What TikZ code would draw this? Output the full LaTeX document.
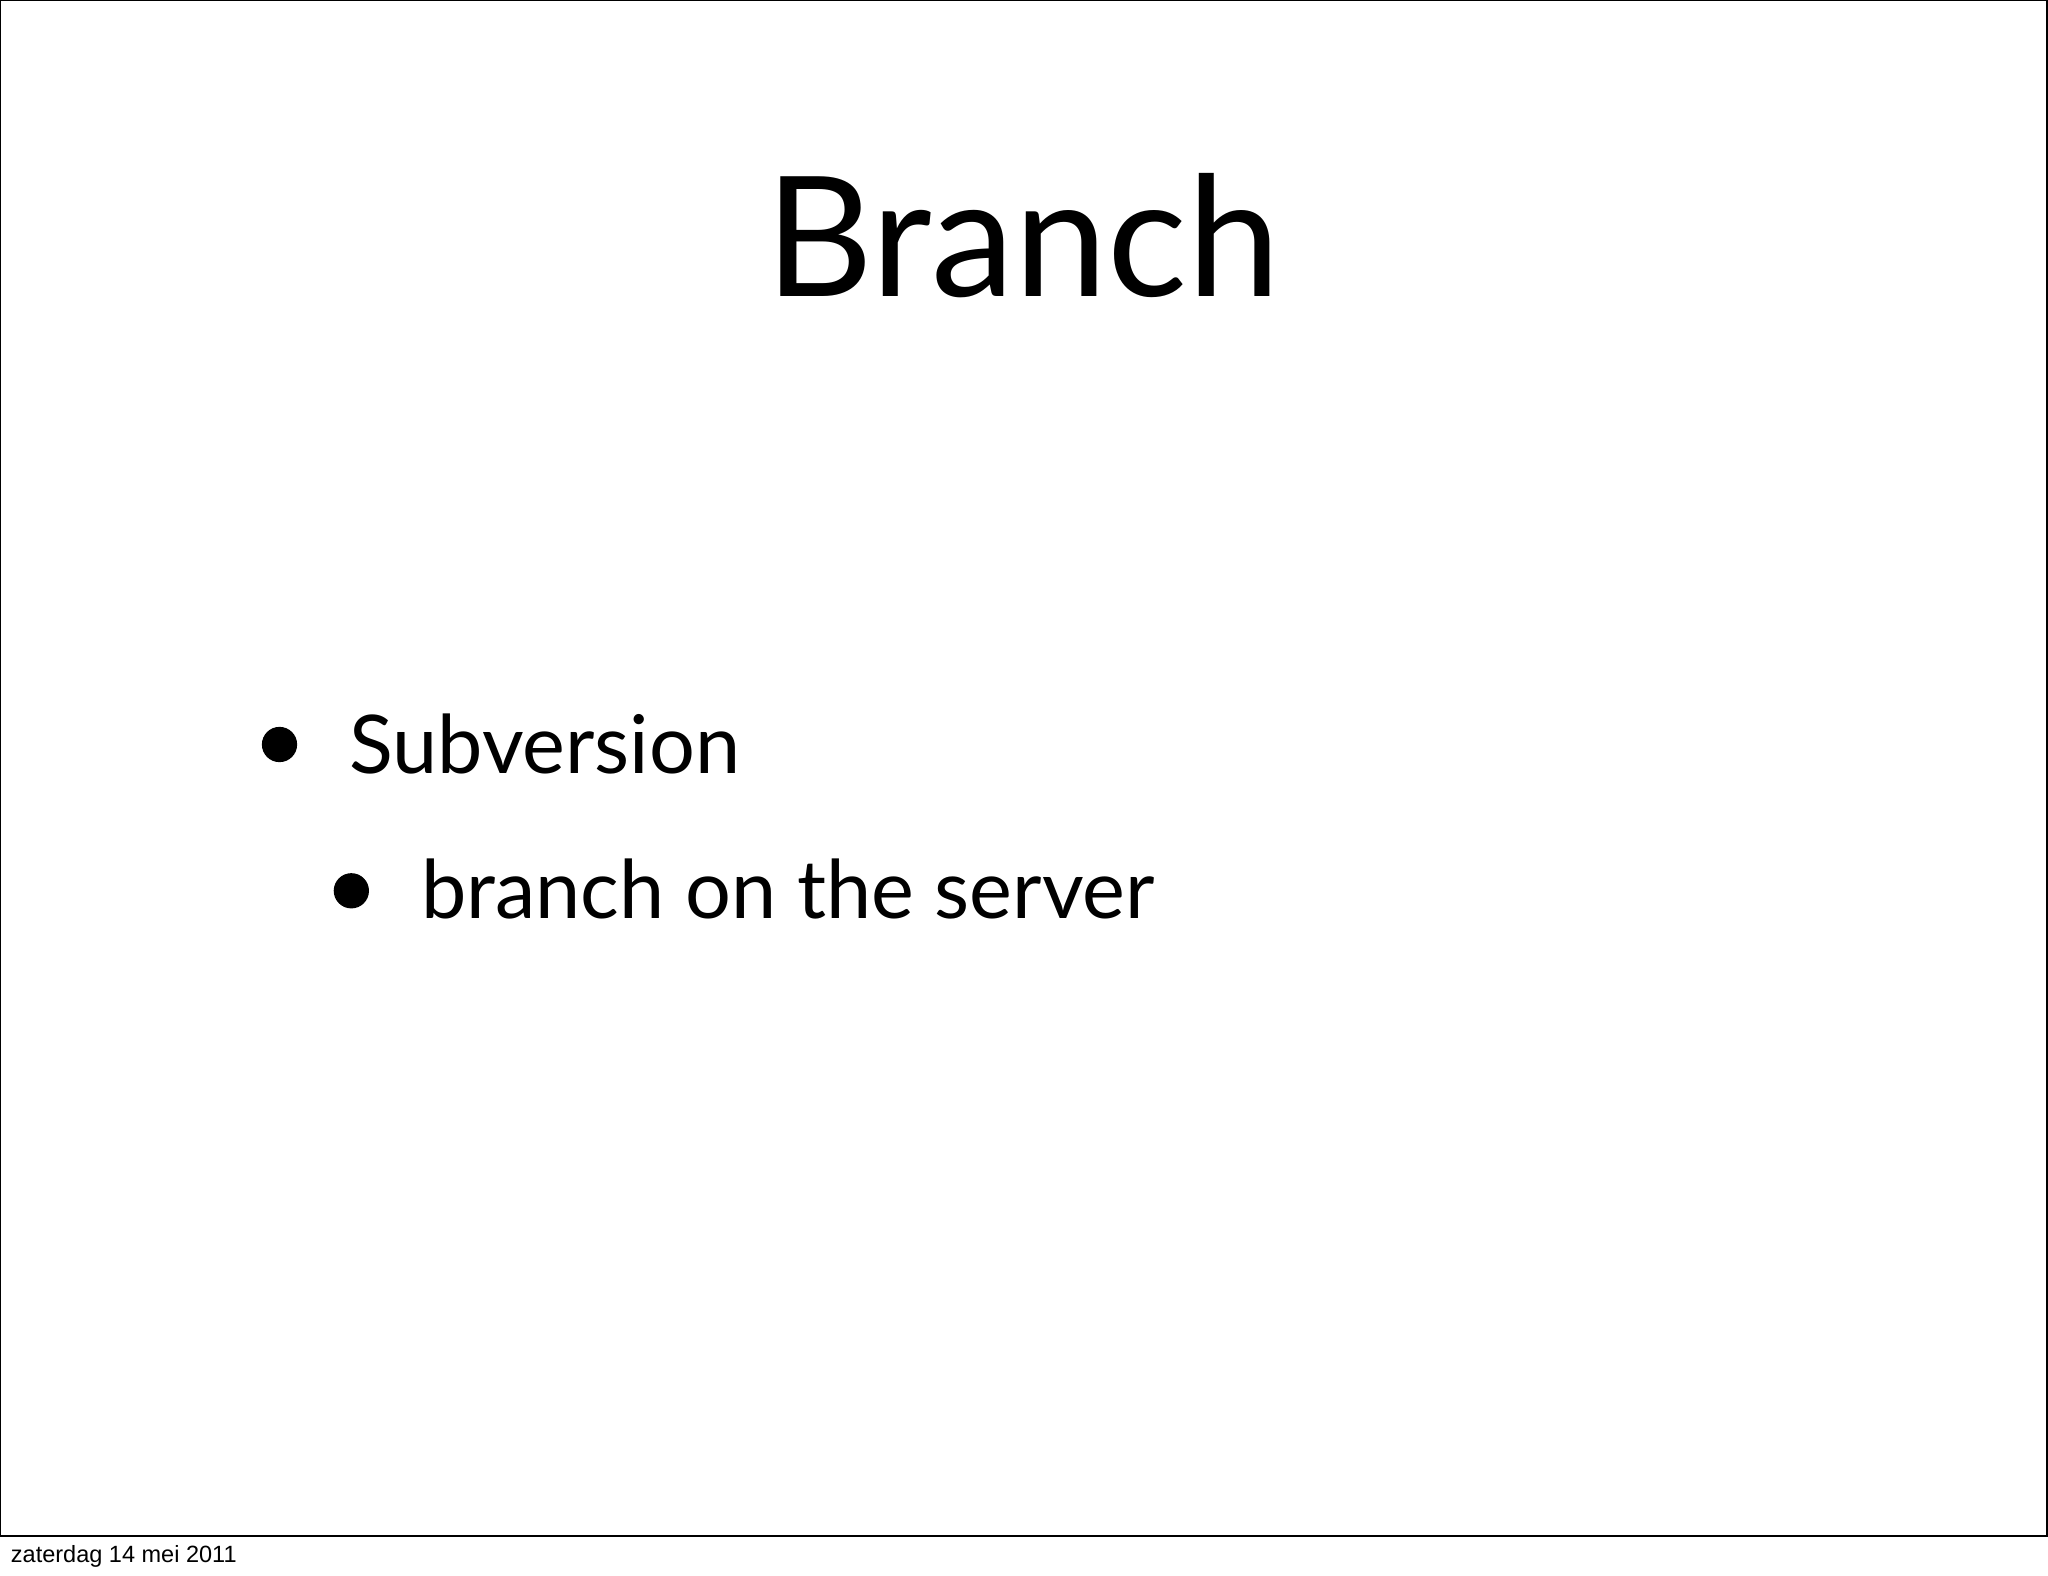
\documentclass[tikz,border=0pt]{standalone}
\usepackage{fontspec}
\setmainfont{Lato}
\newfontfamily\footfont{Liberation Sans}
\begin{document}
\begin{tikzpicture}[x=0.5pt,y=-0.5pt,
  txt/.style={inner sep=0pt,anchor=base west},
  bul/.style={circle,fill=black,inner sep=0pt,minimum size=13.5pt}]
\useasboundingbox (0,0) rectangle (1568,1206);
\draw[line width=0.6pt] (0.5,0.5) rectangle (1567,1176);
\node[inner sep=0pt,anchor=base] (title) at (783,227) {\fontsize{64}{70}\selectfont Branch};
\node[bul] (b1) at (214,570) {};
\node[txt] (t1) at (267,592) {\fontsize{31}{36}\selectfont Subversion};
\node[bul] (b2) at (269,682) {};
\node[txt] (t2) at (322,703) {\fontsize{31}{36}\selectfont branch on the server};
\node[txt] (foot) at (8,1196) {\footfont\fontsize{9}{11}\selectfont zaterdag 14 mei 2011};
\end{tikzpicture}
\end{document}
